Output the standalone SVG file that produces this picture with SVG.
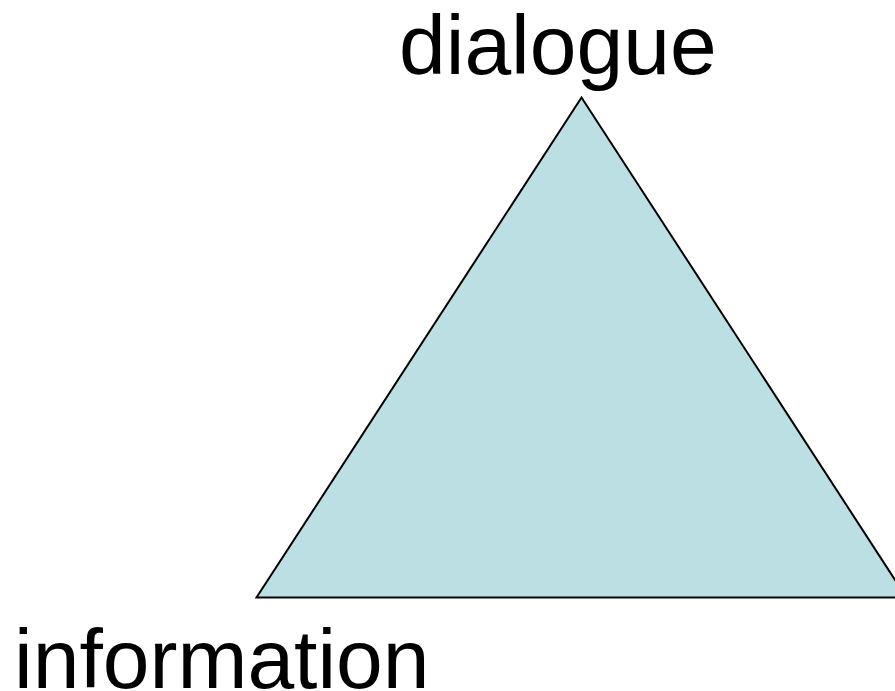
<svg xmlns="http://www.w3.org/2000/svg" width="895" height="691" viewBox="0 0 895 691">
<style>
.lbl{font-family:"Liberation Sans",Arial,sans-serif;font-size:84px;fill:#000}
</style>
<rect width="895" height="691" fill="#fff"/>
<g id="triangle">
<polygon points="581.5,97.5 256.5,597.5 906.5,597.5" fill="#BBDFE2" stroke="#000" stroke-width="2"/>
</g>
<g id="label-dialogue"><text class="lbl" x="399" y="74">dialogue</text></g>
<g id="label-information"><text class="lbl" x="14" y="688">information</text></g>
<g id="connectors"></g>
</svg>
